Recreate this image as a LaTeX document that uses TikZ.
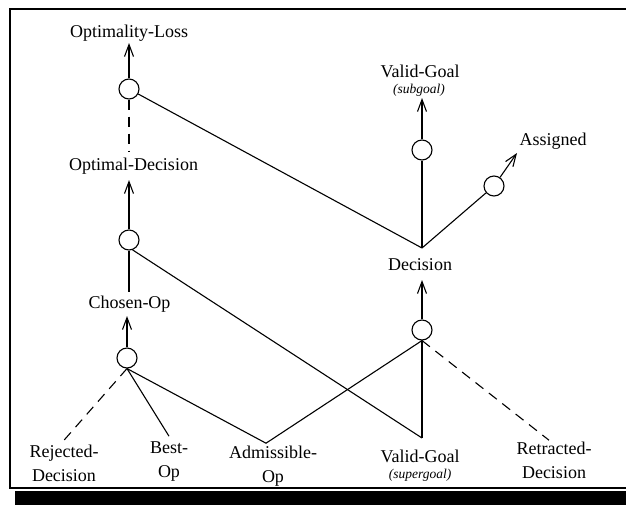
\documentclass[tikz,border=0pt]{standalone}
\usepackage{fontspec}
\setmainfont{Liberation Serif}
\usetikzlibrary{arrows.meta,calc}
\begin{document}
\begin{tikzpicture}[x=1pt,y=-1pt,line width=1.1pt,
  lbl/.style={font=\fontsize{18}{24}\selectfont, inner sep=0pt, anchor=base},
  lbltwo/.style={font=\fontsize{18}{24}\selectfont, inner sep=0pt, anchor=north, align=center},
  note/.style={font=\fontsize{13.5}{15}\selectfont\itshape, inner sep=0pt, anchor=base},
  junc/.style={circle, draw, minimum size=20pt, inner sep=0pt},
  arr/.style={-{Straight Barb[length=12pt,width=9pt]}},
  dsh/.style={dash pattern=on 10pt off 7pt},
]
\useasboundingbox (0,0) rectangle (626,504);
\clip (0,0) rectangle (626,504);

% shadowed frame
\draw[line width=2pt] (640,9) -- (10,9) -- (10,488) -- (640,488);
\fill (15,491) rectangle (640,512);

% labels
\node[lbl] (optl) at (129,37) {Optimality-Loss};
\node[lbl] (optd) at (133.5,170) {Optimal-Decision};
\node[lbl] (cho) at (129.5,308) {Chosen-Op};
\node[lbl] (vgsub) at (420,77) {Valid-Goal};
\node[note] (vgsubn) at (419,93) {(subgoal)};
\node[lbl] (asg) at (553,145) {Assigned};
\node[lbl] (dec) at (420,270) {Decision};
\node[lbltwo] (rej) at (64,440.2) {\strut Rejected-\\Decision};
\node[lbltwo] (best) at (169,436.2) {\strut Best-\\Op};
\node[lbltwo] (adm) at (273,441.2) {\strut Admissible-\\Op};
\node[lbl] (vgs) at (420,462) {Valid-Goal};
\node[note] (vgsn) at (420,478) {(supergoal)};
\node[lbltwo] (ret) at (554,437.2) {\strut Retracted-\\Decision};

% junctions
\node[junc] (c1) at (129,89) {};
\node[junc] (c2) at (129,240) {};
\node[junc] (c3) at (127,358) {};
\node[junc] (c4) at (422,330) {};
\node[junc] (c5) at (422,150) {};
\node[junc] (c6) at (494,186) {};

% meeting points
\coordinate (decv) at ($(dec.base)+(2,-22)$);
\coordinate (admv) at ($(adm.north)+(-7,2)$);
\coordinate (vgv) at ($(vgs.base)+(2,-24)$);

% left column
\draw[arr] (c1.north) -- ($(optl.base)+(0,6)$);
\draw[dsh] (c1.south) -- ($(optd.base)+(-4.5,-18)$);
\draw[arr] (c2.north) -- ($(optd.base)+(-4.5,10)$);
\draw (c2.south) -- ($(cho.base)+(-0.5,-16)$);
\draw[arr] (c3.north) -- ($(cho.base)+(-2.5,8)$);
\draw[dsh] (c3.south) -- (rej.north);
\draw (c3.south) -- (best.north);
\draw (c3.south) -- (admv) -- (c4.south);

% cross links
\draw (c1) -- (decv);
\draw (c2.-70) -- (vgv);

% right column
\draw (decv) -- (c5.south);
\draw (decv) -- (c6);
\draw[arr] (c5.north) -- ($(vgsubn.base)+(3,5)$);
\draw[arr] (c6) -- ($(asg.base)+(-36,8)$);
\draw[arr] (c4.north) -- ($(dec.base)+(2,10)$);
\draw (c4.south) -- (vgv);
\draw[dsh] (c4.south) -- ($(ret.north)+(-5,3)$);
\end{tikzpicture}
\end{document}
